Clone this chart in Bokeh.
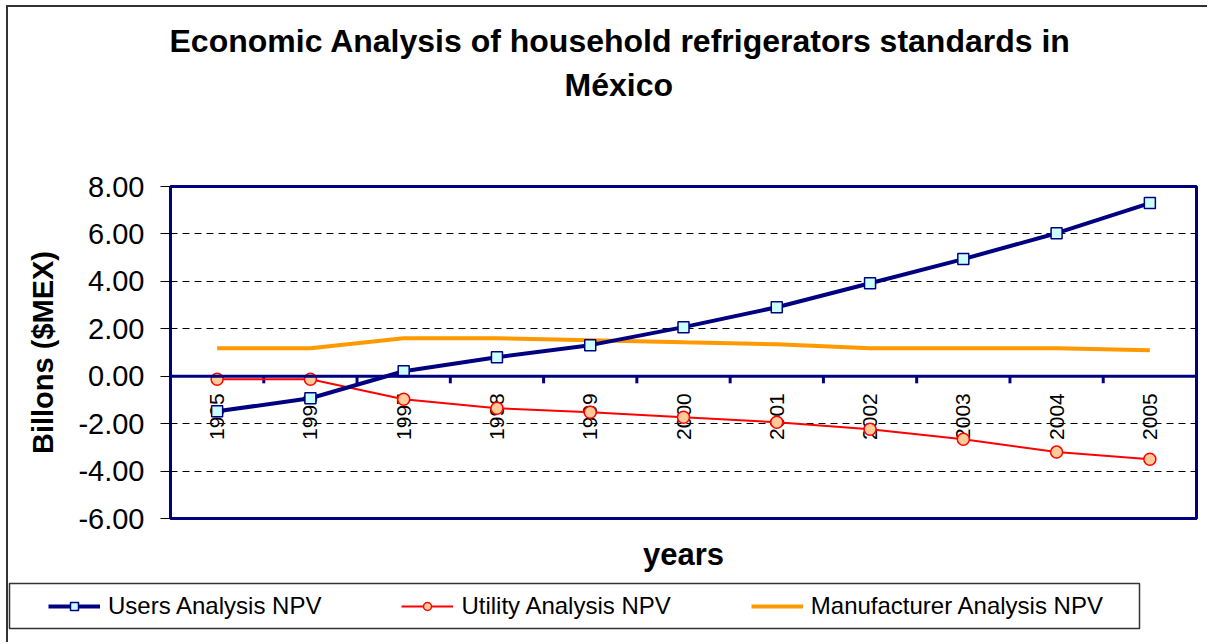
import math
from bokeh.plotting import figure
from bokeh.models import (Range1d, Span, Legend, LegendItem, Title, LinearAxis,
                          FixedTicker, NumeralTickFormatter, ColumnDataSource)
from bokeh.core.properties import value
from bokeh.embed import file_html
from bokeh.resources import INLINE

years = [1995, 1996, 1997, 1998, 1999, 2000, 2001, 2002, 2003, 2004, 2005]
users_npv = [-1.48, -0.93, 0.21, 0.80, 1.31, 2.07, 2.91, 3.92, 4.94, 6.03, 7.30]
utility_npv = [-0.13, -0.13, -0.97, -1.35, -1.52, -1.73, -1.94, -2.24, -2.66, -3.20, -3.50]
manufacturer_npv = [1.18, 1.18, 1.60, 1.60, 1.52, 1.43, 1.35, 1.18, 1.18, 1.18, 1.10]
y_ticks = [-6, -4, -2, 0, 2, 4, 6, 8]
title_lines = ["Economic Analysis of household refrigerators standards in", "México"]
series_names = ["Users Analysis NPV", "Utility Analysis NPV", "Manufacturer Analysis NPV"]

FONT = "Liberation Sans"
NAVY = "#000080"
RED = "#FF0000"
ORANGE = "#FF9900"
EDGE = "#333333"

src = ColumnDataSource(dict(x=years, users=users_npv, util=utility_npv, manu=manufacturer_npv,
                            lab=[str(y) for y in years]))

p = figure(width=1201, height=577, output_backend="svg", toolbar_location=None,
           x_range=Range1d(years[0] - 0.5, years[-1] + 0.5),
           y_range=Range1d(y_ticks[0], y_ticks[-1]),
           x_axis_location=None,
           min_border_left=162, min_border_top=179, min_border_right=13, min_border_bottom=66,
           styles={"margin-left": "6px", "margin-top": "5px",
                   "border-left": "2px solid " + EDGE, "border-top": "2px solid " + EDGE})
p.title.text = ""
p.background_fill_color = "white"
p.border_fill_color = "white"
p.outline_line_color = NAVY
p.outline_line_width = 3

# title: spacer panel nearest the frame, then the two title lines
p.add_layout(Title(text=".", standoff=79, text_font_size="2px", text_color="white"), "above")
p.add_layout(Title(text=title_lines[1], align="left", offset=394, standoff=4,
                   text_font=FONT, text_font_size="32px", text_font_style="bold",
                   text_color="black"), "above")
p.add_layout(Title(text=title_lines[0], align="left", offset=-1, standoff=8,
                   text_font=FONT, text_font_size="32px", text_font_style="bold",
                   text_color="black"), "above")

# y axis
ax = p.yaxis[0]
ax.ticker = FixedTicker(ticks=y_ticks)
ax.formatter = NumeralTickFormatter(format="0.00")
ax.axis_line_color = None
ax.major_tick_line_color = "black"
ax.major_tick_line_width = 1
ax.major_tick_out = 10
ax.major_tick_in = 0
ax.minor_tick_line_color = None
ax.major_label_standoff = 16
ax.major_label_text_font = FONT
ax.major_label_text_font_size = "29px"
ax.major_label_text_color = "black"
ax.axis_label = "Billons ($MEX)"
ax.axis_label_text_font = FONT
ax.axis_label_text_font_size = "29px"
ax.axis_label_text_font_style = "bold"
ax.axis_label_text_color = "black"
ax.axis_label_standoff = 16

# bottom axis only for the "years" title
bx = LinearAxis(ticker=FixedTicker(ticks=[]), axis_line_color=None,
                major_tick_line_color=None, minor_tick_line_color=None,
                major_tick_out=0, major_tick_in=0, major_label_standoff=0,
                axis_label="years", axis_label_standoff=18,
                axis_label_text_font=FONT, axis_label_text_font_size="31px",
                axis_label_text_font_style="bold", axis_label_text_color="black")
p.add_layout(bx, "below")

p.xgrid.grid_line_color = None
p.ygrid.ticker = FixedTicker(ticks=y_ticks)
p.ygrid.grid_line_color = "black"
p.ygrid.grid_line_width = 1
p.ygrid.grid_line_dash = "7 5"

# zero line acting as category axis
p.add_layout(Span(location=0, dimension="width", line_color=NAVY, line_width=3))
bounds = [y + 0.5 for y in years[:-1]]
p.segment(x0=bounds, y0=[0] * len(bounds), x1=bounds, y1=[-0.3] * len(bounds),
          line_color=NAVY, line_width=3)

# rotated category labels
p.text(x="x", y=0, text="lab", source=src, angle=math.pi / 2, y_offset=17,
       text_align="right", text_baseline="middle", text_font=value(FONT),
       text_font_size="21px", text_color="black")

# series
styles = dict(
    manu=dict(line_color=ORANGE, line_width=4),
    util_l=dict(line_color=RED, line_width=2),
    util_m=dict(marker="circle", size=12, fill_color="#FFCC99", line_color=RED, line_width=1.5),
    users_l=dict(line_color=NAVY, line_width=4),
    users_m=dict(marker="square", size=11, fill_color="#CCFFFF", line_color=NAVY, line_width=1.5),
)
p.line("x", "manu", source=src, **styles["manu"])
p.line("x", "util", source=src, **styles["util_l"])
p.scatter("x", "util", source=src, **styles["util_m"])
p.line("x", "users", source=src, **styles["users_l"])
p.scatter("x", "users", source=src, **styles["users_m"])

# legend strip: a second root below the chart, its frame is the legend box
q = figure(width=1201, height=60, output_backend="svg", toolbar_location=None,
           x_range=Range1d(0, 1), y_range=Range1d(0, 1),
           x_axis_location=None, y_axis_location=None,
           min_border_left=1, min_border_top=1, min_border_right=70, min_border_bottom=14,
           styles={"margin-left": "6px", "border-left": "2px solid " + EDGE})
q.title.text = ""
q.grid.visible = False
q.outline_line_color = EDGE
q.outline_line_width = 1.5
q.background_fill_color = "white"
q.border_fill_color = "white"
# same series, lying outside this strip's ranges; used only for the legend glyphs
q_us_l = q.line("x", "users", source=src, **styles["users_l"])
q_us_m = q.scatter("x", "users", source=src, **styles["users_m"])
q_ut_l = q.line("x", "util", source=src, **styles["util_l"])
q_ut_m = q.scatter("x", "util", source=src, **styles["util_m"])
q_ma = q.line("x", "manu", source=src, **styles["manu"])

legend = Legend(items=[
    LegendItem(label=series_names[0], renderers=[q_us_l, q_us_m]),
    LegendItem(label=series_names[1], renderers=[q_ut_l, q_ut_m]),
    LegendItem(label=series_names[2], renderers=[q_ma]),
], orientation="horizontal", location="left", margin=39, padding=12, spacing=80,
    glyph_width=52, glyph_height=20, label_standoff=8, label_height=20,
    label_text_font=FONT, label_text_font_size="24px", label_text_color="black",
    border_line_color=None, background_fill_alpha=0)
q.add_layout(legend, "center")

open("out.html", "w").write(file_html([p, q], INLINE))
